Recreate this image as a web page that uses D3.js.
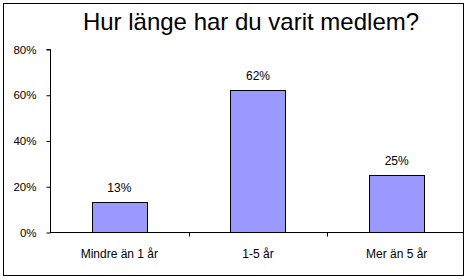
<!DOCTYPE html>
<html>
<head>
<meta charset="utf-8">
<script src="https://cdn.jsdelivr.net/npm/d3@7"></script>
<style>
  body { margin: 0; background: #fff; }
  svg { display: block; font-family: "Liberation Sans", Arial, sans-serif; }
</style>
</head>
<body>
<svg id="chart"></svg>
<script>
const categories = ['Mindre än 1 år', '1-5 år', 'Mer än 5 år'];
const values = [0.13, 0.62, 0.25];
const valueLabels = ['13%', '62%', '25%'];
const yTicks = [0, 0.2, 0.4, 0.6, 0.8];

const width = 469, height = 280;
const svg = d3.select('svg#chart')
    .attr('width', width)
    .attr('height', height);

// outer frame
svg.append('rect')
    .attr('x', 3.5).attr('y', 3.5)
    .attr('width', 460).attr('height', 272)
    .attr('fill', '#fff')
    .attr('stroke', '#000');

svg.append('text')
    .attr('x', 251).attr('y', 30)
    .attr('text-anchor', 'middle')
    .attr('font-size', 24)
    .text('Hur länge har du varit medlem?');

const plot = { left: 50, right: 466, top: 49, bottom: 232 };

const x = d3.scaleBand()
    .domain(categories)
    .range([plot.left, plot.right])
    .paddingInner(0.6)
    .paddingOuter(0.3);

const xBounds = d3.scaleLinear()
    .domain([0, categories.length])
    .range([plot.left, plot.right]);

const y = d3.scaleLinear()
    .domain([0, 0.8])
    .range([plot.bottom, plot.top]);

const g = svg.append('g');

// bars
g.selectAll('rect.bar')
    .data(values)
    .join('rect')
    .classed('bar', true)
    .attr('x', (d, i) => Math.round(x(categories[i])) + 0.5)
    .attr('y', d => Math.round(y(d)) + 0.5)
    .attr('width', Math.round(x.bandwidth()))
    .attr('height', d => Math.round(y(0)) - Math.round(y(d)))
    .attr('fill', '#9999ff')
    .attr('stroke', '#000');

// value labels
g.selectAll('text.val')
    .data(values)
    .join('text')
    .classed('val', true)
    .attr('x', (d, i) => x(categories[i]) + x.bandwidth() / 2)
    .attr('y', d => y(d) - 10)
    .attr('text-anchor', 'middle')
    .attr('font-size', 12)
    .text((d, i) => valueLabels[i]);

// y axis
const yAxis = svg.append('g')
    .attr('transform', `translate(${plot.left + 0.5},0.5)`)
    .call(d3.axisLeft(y).tickValues(yTicks).tickFormat(d3.format('.0%')).tickSize(4).tickPadding(10));
yAxis.selectAll('text').attr('font-size', 11.5).attr('font-family', '"Liberation Sans", Arial, sans-serif').attr('fill', '#000');
yAxis.select('.domain').attr('d', `M-4,${y(0.8)}H0V${y(0)}`);

// x axis
const xAxis = svg.append('g')
    .attr('transform', `translate(0,${Math.round(y(0)) + 0.5})`);
xAxis.append('line')
    .attr('x1', plot.left).attr('x2', 463)
    .attr('stroke', '#000');
xAxis.selectAll('line.tick')
    .data(d3.range(1, categories.length))
    .join('line')
    .classed('tick', true)
    .attr('x1', d => Math.round(xBounds(d)) + 0.5)
    .attr('x2', d => Math.round(xBounds(d)) + 0.5)
    .attr('y1', 0).attr('y2', 4)
    .attr('stroke', '#000');
xAxis.selectAll('text.cat')
    .data(categories)
    .join('text')
    .classed('cat', true)
    .attr('x', d => x(d) + x.bandwidth() / 2)
    .attr('y', 25)
    .attr('text-anchor', 'middle')
    .attr('font-size', 12)
    .text(d => d);
</script>
</body>
</html>
